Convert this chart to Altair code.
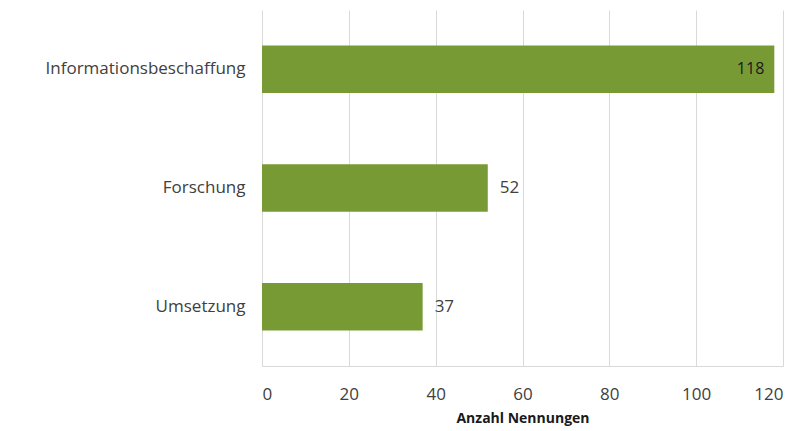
import altair as alt
import pandas as pd

categories = ["Informationsbeschaffung", "Forschung", "Umsetzung"]
values = [118, 52, 37]

df = pd.DataFrame({"cat": categories, "val": values})

FONT = "Open Sans"
x = alt.X("val:Q", scale=alt.Scale(domain=[0, 120]),
          axis=alt.Axis(values=[0, 20, 40, 60, 80, 100, 120], title="Anzahl Nennungen",
                        titleFont=FONT, titleFontSize=14, titleFontWeight="bold", titleColor="#1a1a1a",
                        labelFont=FONT, labelFontSize=17, labelColor="#404040", labelPadding=20,
                        titlePadding=9, ticks=False, domainColor="#d9d9d9", gridColor="#d9d9d9"))
y = alt.Y("cat:N", sort=categories, scale=alt.Scale(paddingInner=0.6, paddingOuter=0.3),
          axis=alt.Axis(title=None, ticks=False, domain=False, labelFont=FONT, labelFontSize=17,
                        labelColor="#404040", labelPadding=17, labelLimit=400))

base = alt.Chart(df)
bars = base.mark_bar(color="#789a35").encode(x=x, y=y)
outside = base.transform_filter("datum.val < 100").mark_text(
    align="left", dx=12, font=FONT, fontSize=17, color="#404040").encode(x=x, y=y, text="val:Q")
inside = base.transform_filter("datum.val >= 100").mark_text(
    align="right", dx=-10, font=FONT, fontSize=16, color="#1a1a1a").encode(x=x, y=y, text="val:Q")

chart = (bars + outside + inside).properties(
    width=521, height=356,
    autosize=alt.AutoSizeParams(type="none"),
    padding={"left": 254, "top": 2, "right": 20, "bottom": 60},
).configure_view(stroke=None)

chart.save("out.html", embed_options={"renderer": "svg", "actions": False})
